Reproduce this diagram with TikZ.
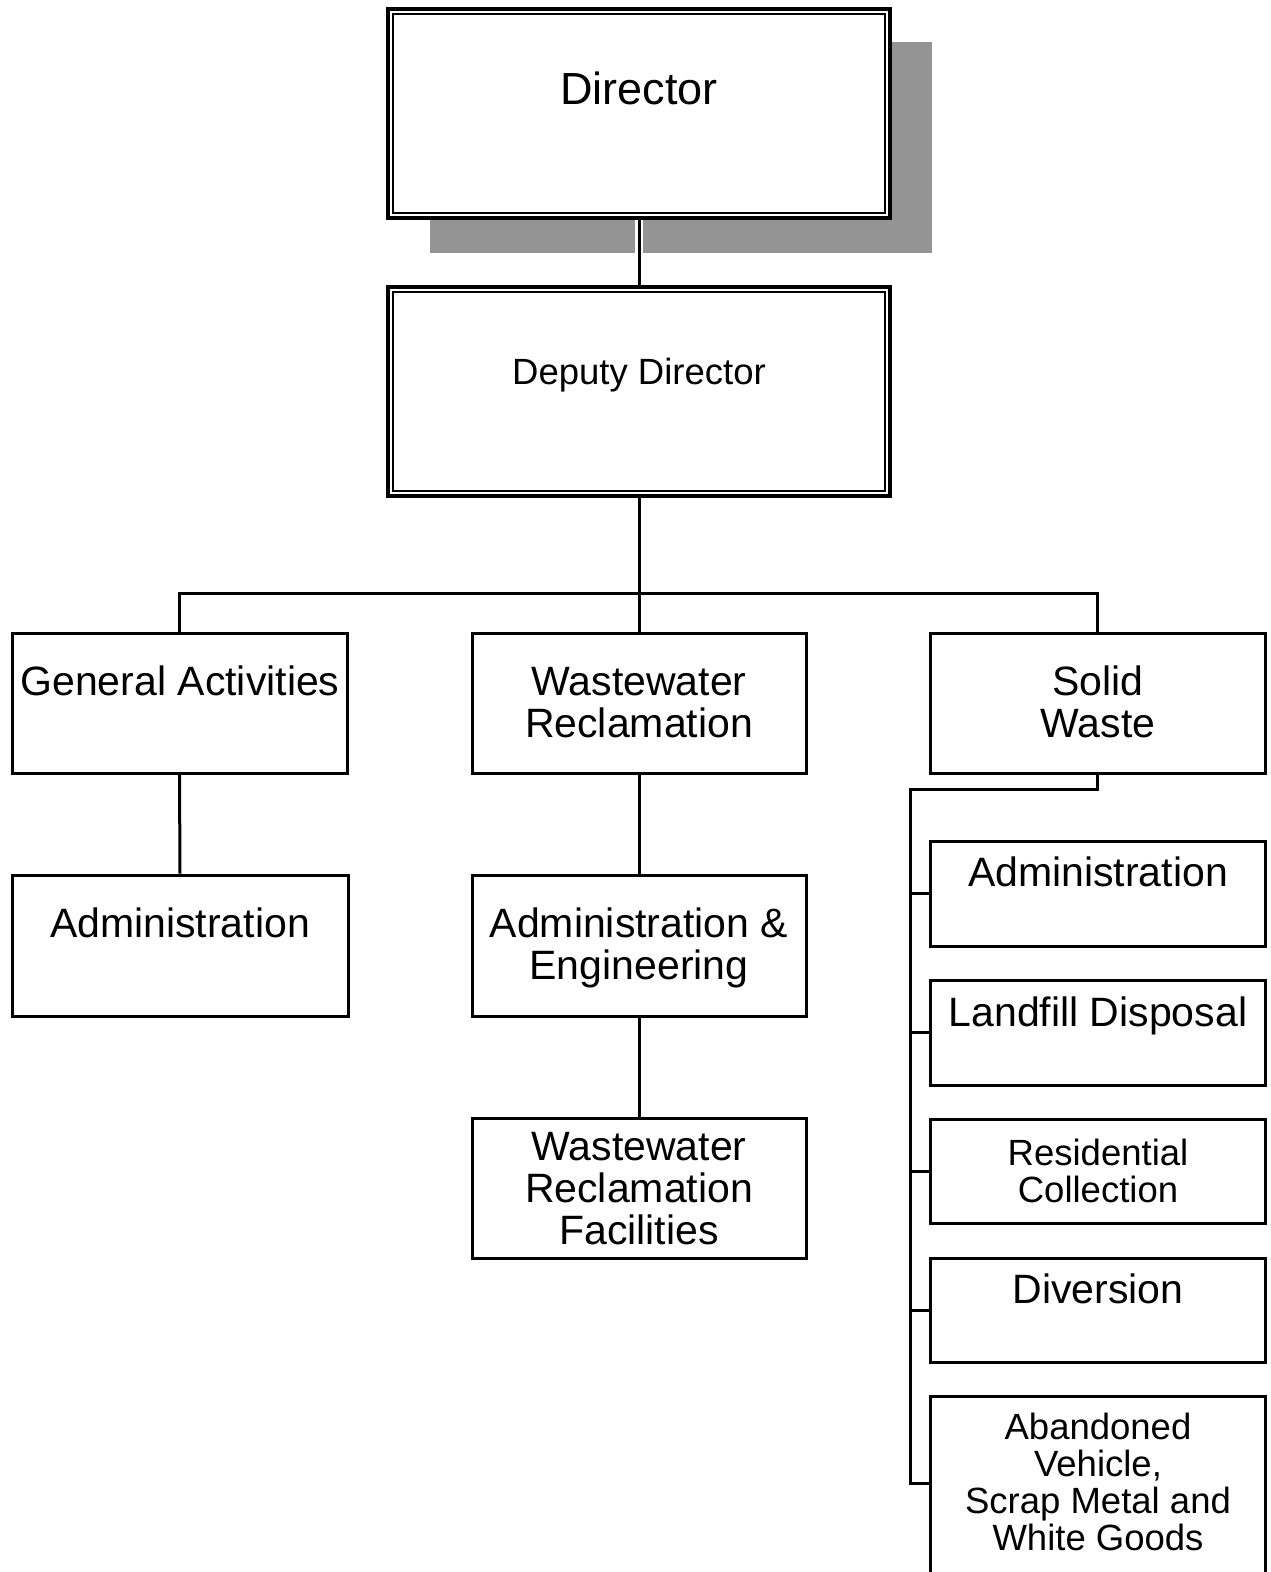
\documentclass[tikz,border=0pt]{standalone}
\usepackage{fontspec}
\setmainfont{Liberation Sans}
\usetikzlibrary{calc}
\begin{document}
\begin{tikzpicture}[x=1pt,y=-1pt,
  box/.style={draw, line width=3pt, rectangle, inner sep=0pt, fill=white},
  lbl/.style={align=center, anchor=base, inner sep=0pt, font=\fontsize{41}{42}\selectfont},
  sml/.style={align=center, anchor=base, inner sep=0pt, font=\fontsize{36.5}{37}\selectfont},
  conn/.style={line width=3pt}]
\useasboundingbox (0,0) rectangle (1270,1572);
% shadow
\fill[black!42] (430,42) rectangle (932,253);
% top boxes
\node[box, line width=4.5pt, minimum width=502pt, minimum height=209pt] (dir) at (639,113.5) {};
\draw[line width=2.2pt] ([shift={(7,7)}]dir.north west) rectangle ([shift={(-7,-7)}]dir.south east);
\node[box, line width=4.5pt, minimum width=502pt, minimum height=209pt] (dep) at (639,391.5) {};
\draw[line width=2.2pt] ([shift={(7,7)}]dep.north west) rectangle ([shift={(-7,-7)}]dep.south east);
% level 2
\node[box, minimum width=335pt, minimum height=140pt] (ga) at (179.5,703) {};
\node[box, minimum width=334pt, minimum height=140pt] (ww) at (639,703) {};
\node[box, minimum width=335pt, minimum height=140pt] (sw) at (1097.5,703) {};
% level 3
\node[box, minimum width=336pt, minimum height=141pt] (gaad) at (180,945.5) {};
\node[box, minimum width=334pt, minimum height=141pt] (wwae) at (639,945.5) {};
\node[box, minimum width=334pt, minimum height=140pt] (wwf) at (639,1188) {};
\node[box, minimum width=335pt, minimum height=105pt] (s1) at (1097.5,893.5) {};
\node[box, minimum width=335pt, minimum height=105pt] (s2) at (1097.5,1032.5) {};
\node[box, minimum width=335pt, minimum height=104pt] (s3) at (1097.5,1171) {};
\node[box, minimum width=335pt, minimum height=104pt] (s4) at (1097.5,1310) {};
\node[box, minimum width=335pt, minimum height=180pt] (s5) at (1097.5,1486) {};
% connectors
\draw[white, line width=8pt] (dir.south) -- (dep.north);
\draw[conn] (dir.south) -- (dep.north);
\coordinate (bus) at (639,593);
\draw[conn] (dep.south) -- (bus) -- (ww.north);
\draw[conn] (ga.north) -- (ga.north |- bus) -- (sw.north |- bus) -- (sw.north);
\draw[conn] (ga.south) -- (gaad.north);
\draw[conn] (ww.south) -- (wwae.north);
\draw[conn] (wwae.south) -- (wwf.north);
\coordinate (trunk) at (910,789);
\coordinate (tend) at (910,1483);
\draw[conn] (sw.south) -- (sw.south |- trunk) -- (trunk) -- (tend) -- (tend -| s5.west);
\foreach \n in {s1,s2,s3,s4}{\draw[conn] (trunk |- \n.west) -- (\n.west);}
% labels (anchor base = baseline of the last line)
\node[lbl, font=\fontsize{45}{50}\selectfont] (tdir) at (639,104) {Director};
\node[sml] (tdep) at (639,384) {Deputy Director};
\node[lbl] (tga) at (180,695) {General Activities};
\node[lbl] (tww) at (639,737) {Wastewater\\Reclamation};
\node[lbl] (tsw) at (1098,737) {Solid\\Waste};
\node[lbl] (tgaad) at (180,937) {Administration};
\node[lbl] (twwae) at (639,979) {Administration \&\\Engineering};
\node[lbl] (twwf) at (639,1244) {Wastewater\\Reclamation\\Facilities};
\node[lbl] (ts1) at (1098,886) {Administration};
\node[lbl] (ts2) at (1098,1026) {Landfill Disposal};
\node[sml] (ts3) at (1098,1202) {Residential\\Collection};
\node[lbl] (ts4) at (1098,1303) {Diversion};
\node[sml] (ts5) at (1098,1550) {Abandoned\\Vehicle,\\Scrap Metal and\\White Goods};
\end{tikzpicture}
\end{document}
